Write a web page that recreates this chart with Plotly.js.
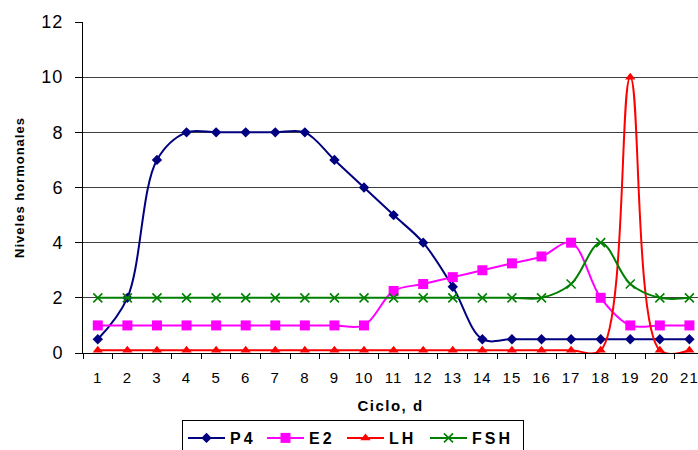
<!DOCTYPE html>
<html>
<head>
<meta charset="utf-8">
<script src="https://cdn.plot.ly/plotly-3.0.1.min.js"></script>
<style>
  html, body { margin: 0; padding: 0; background: #fff; }
  #chart { width: 698px; height: 450px; }
  .ytitle { letter-spacing: 1px; }
  .xtitle { letter-spacing: 1.5px; }
  .legendtext { letter-spacing: 3px; }
  .xtick text { letter-spacing: 1px; }
  .ytick text { letter-spacing: 1px; }
</style>
</head>
<body>
<div id="chart"></div>
<script>
const days = ['1','2','3','4','5','6','7','8','9','10','11','12','13','14','15','16','17','18','19','20','21'];
const p4  = [0.5, 2, 7, 8, 8, 8, 8, 8, 7, 6, 5, 4, 2.4, 0.5, 0.5, 0.5, 0.5, 0.5, 0.5, 0.5, 0.5];
const e2  = [1, 1, 1, 1, 1, 1, 1, 1, 1, 1, 2.25, 2.5, 2.75, 3, 3.25, 3.5, 4, 2, 1, 1, 1];
const lh  = [0.1, 0.1, 0.1, 0.1, 0.1, 0.1, 0.1, 0.1, 0.1, 0.1, 0.1, 0.1, 0.1, 0.1, 0.1, 0.1, 0.1, 0.1, 10, 0.1, 0.1];
const fsh = [2, 2, 2, 2, 2, 2, 2, 2, 2, 2, 2, 2, 2, 2, 2, 2, 2.5, 4, 2.5, 2, 2];
const yTicks = [0, 2, 4, 6, 8, 10, 12];

const font = 'Liberation Sans, Arial, sans-serif';

function tr(name, y, color, symbol, size, lw, extra) {
  return Object.assign({
    type: 'scatter', mode: 'lines+markers', name: name,
    x: days, y: y,
    line: { color: color, width: 2, shape: 'spline', smoothing: 1 },
    marker: { color: color, symbol: symbol, size: size },
    legendwidth: lw,
    cliponaxis: false
  }, extra || {});
}

const data = [
  tr('P4', p4, '#000080', 'diamond', 8, 27),
  tr('E2', e2, '#FF00FF', 'square', 10, 28),
  tr('LH', lh, '#FF0000', 'triangle-up', 9, 31),
  tr('FSH', fsh, '#008000', 'x-thin', 9, 46, {
    marker: { color: '#008000', symbol: 'x-thin', size: 9, line: { color: '#008000', width: 1.6 } }
  })
];

const layout = {
  width: 698, height: 450,
  margin: { l: 83, r: 0, t: 22, b: 97, autoexpand: false },
  paper_bgcolor: '#ffffff', plot_bgcolor: '#ffffff',
  font: { family: font, color: '#000000' },
  showlegend: true,
  legend: {
    orientation: 'h', xanchor: 'left', yanchor: 'top',
    x: (182 - 83) / 615, y: -(420 - 353) / 331,
    bordercolor: '#000000', borderwidth: 1,
    itemwidth: 37,
    font: { family: font, size: 16, color: '#000000', weight: 'bold' },
    bgcolor: '#ffffff'
  },
  xaxis: {
    type: 'category',
    range: [-0.5, 20.29],
    tickson: 'boundaries',
    ticks: 'outside', ticklen: 5, tickcolor: '#000000', tickwidth: 1,
    ticklabelstandoff: 11,
    showline: true, linecolor: '#000000', linewidth: 1,
    showgrid: false, zeroline: false,
    tickfont: { family: font, size: 15, color: '#000000' },
    title: { text: 'Ciclo, d', font: { family: font, size: 15, color: '#000000', weight: 'bold' }, standoff: 15 },
    automargin: false, fixedrange: true
  },
  yaxis: {
    range: [0, 12],
    tickmode: 'array', tickvals: yTicks, ticktext: yTicks.map(String),
    ticks: 'outside', ticklen: 7, tickcolor: '#000000', tickwidth: 1,
    ticklabelstandoff: 8,
    showline: true, linecolor: '#000000', linewidth: 1,
    showgrid: true, gridcolor: '#404040', gridwidth: 1,
    zeroline: false,
    tickfont: { family: font, size: 18, color: '#000000' },
    title: { text: 'Niveles hormonales', font: { family: font, size: 13, color: '#000000', weight: 'bold' }, standoff: 13 },
    automargin: false, fixedrange: true
  }
};

Plotly.newPlot('chart', data, layout, { staticPlot: true, displayModeBar: false });
</script>
</body>
</html>
